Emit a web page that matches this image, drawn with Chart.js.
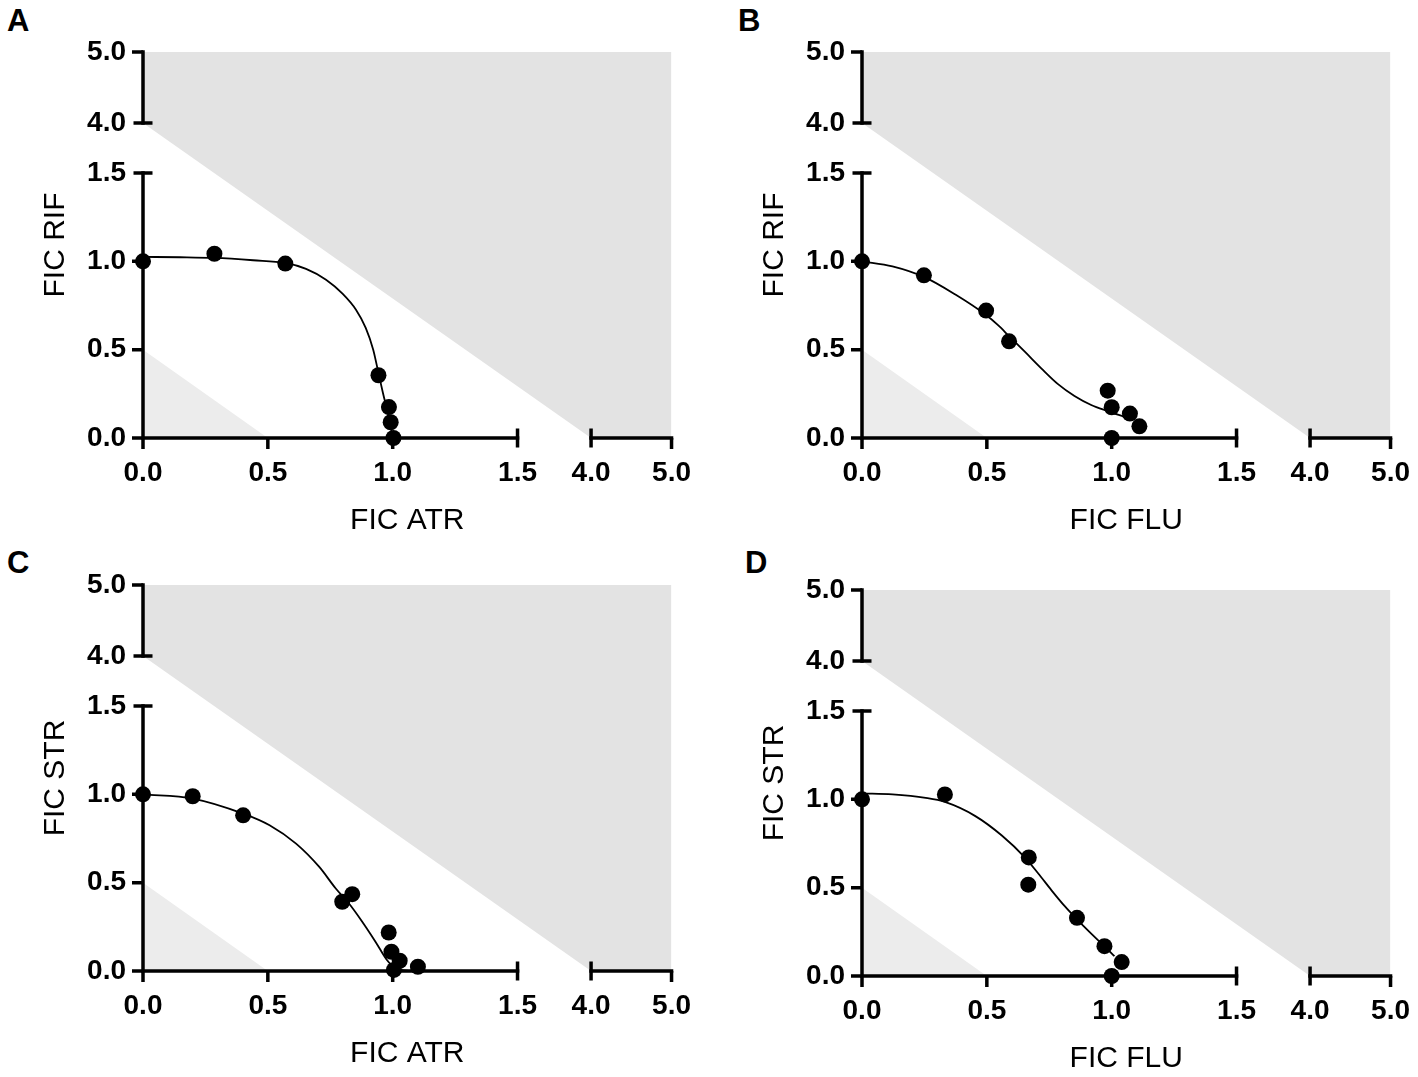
<!DOCTYPE html>
<html><head><meta charset="utf-8">
<script src="https://cdn.jsdelivr.net/npm/chart.js@4.4.1/dist/chart.umd.min.js"></script>
<style>
html,body{margin:0;padding:0;background:#fff;width:1418px;height:1077px;overflow:hidden;position:relative;}
canvas{position:absolute;}
.letter{position:absolute;font-family:'Liberation Sans',Arial,sans-serif;font-weight:bold;font-size:31px;line-height:31px;color:#000;}
</style></head><body>
<div class="letter" style="left:7px;top:5px">A</div>
<div class="letter" style="left:738px;top:5px">B</div>
<div class="letter" style="left:7px;top:547px">C</div>
<div class="letter" style="left:745px;top:547px">D</div>
<canvas id="cA" width="709" height="540" style="left:0px;top:0px;width:709px;height:540px"></canvas>
<canvas id="cB" width="709" height="540" style="left:719px;top:0px;width:709px;height:540px"></canvas>
<canvas id="cC" width="709" height="540" style="left:0px;top:533px;width:709px;height:540px"></canvas>
<canvas id="cD" width="709" height="540" style="left:719px;top:538px;width:709px;height:540px"></canvas>
<script>
// ---------- tick values / labels (both axes are broken: 0–1.5 // 4–5) ----------
const tickValues = [0, 0.5, 1.0, 1.5, 4.0, 5.0];
const tickLabels = ['0.0', '0.5', '1.0', '1.5', '4.0', '5.0'];

// ---------- reference regions ----------
const antagonismX = [0, 4, 5];      // lower edge of the x+y >= 4 region
const antagonismY = [4, 0, 0];
const synergyX = [0, 0.5];          // upper edge of the x+y <= 0.5 region
const synergyY = [0.5, 0];

// ---------- Panel A: FIC ATR vs FIC RIF ----------
const atrRifX = [0, 0.286, 0.570, 0.943, 0.985, 0.992, 1.003];
const atrRifY = [1.0, 1.043, 0.987, 0.355, 0.175, 0.089, 0.0];
const atrRifCurveX = [0, 0.149, 0.286, 0.441, 0.570, 0.653, 0.733, 0.799, 0.853, 0.892, 0.922, 0.943, 0.961, 0.979, 0.992, 1.001];
const atrRifCurveY = [1.025, 1.023, 1.019, 1.006, 0.991, 0.957, 0.896, 0.817, 0.726, 0.623, 0.500, 0.368, 0.255, 0.151, 0.066, 0.0];

// ---------- Panel B: FIC FLU vs FIC RIF ----------
const fluRifX = [0, 0.248, 0.497, 0.589, 0.984, 1.0, 1.073, 1.111, 1.0];
const fluRifY = [1.0, 0.921, 0.721, 0.547, 0.268, 0.174, 0.138, 0.066, 0.0];
const fluRifCurveX = [0, 0.122, 0.248, 0.374, 0.493, 0.546, 0.590, 0.653, 0.719, 0.785, 0.851, 0.918, 0.984, 1.050];
const fluRifCurveY = [1.0, 0.972, 0.912, 0.812, 0.700, 0.637, 0.575, 0.487, 0.393, 0.305, 0.238, 0.187, 0.152, 0.120];

// ---------- Panel C: FIC ATR vs FIC STR ----------
const atrStrX = [0, 0.199, 0.401, 0.798, 0.838, 0.984, 0.995, 1.028, 1.005, 1.101];
const atrStrY = [1.0, 0.989, 0.881, 0.392, 0.435, 0.218, 0.109, 0.058, 0.006, 0.024];
const atrStrCurveX = [0, 0.199, 0.401, 0.507, 0.613, 0.706, 0.772, 0.825, 0.878, 0.931, 0.977, 1.011, 1.064];
const atrStrCurveY = [1.0, 0.976, 0.891, 0.825, 0.721, 0.589, 0.467, 0.382, 0.279, 0.166, 0.062, 0.015, 0.0];

// ---------- Panel D: FIC FLU vs FIC STR ----------
const fluStrX = [0, 0.332, 0.668, 0.666, 0.861, 0.971, 1.040, 1.0];
const fluStrY = [1.0, 1.028, 0.671, 0.517, 0.329, 0.169, 0.079, 0.0];
const fluStrCurveX = [0, 0.122, 0.255, 0.332, 0.454, 0.560, 0.653, 0.706, 0.759, 0.812, 0.858, 0.918, 0.971, 1.011];
const fluStrCurveY = [1.034, 1.028, 1.008, 0.985, 0.905, 0.795, 0.670, 0.580, 0.485, 0.395, 0.325, 0.240, 0.168, 0.112];

// ---------- axis break transform (value -> continuous scale coordinate) ----------
const BREAK_LO = 1.5, BREAK_HI = 4.0;
const X_GAP = 0.2945, X_SEG2 = 0.3223;
const Y_GAP = 0.283,  Y_SEG2 = 0.4018;
function vx(v){ return v <= BREAK_LO ? v : BREAK_LO + X_GAP + (v - BREAK_HI) * X_SEG2; }
function vy(v){ return v <= BREAK_LO ? v : BREAK_LO + Y_GAP + (v - BREAK_HI) * Y_SEG2; }
function pts(xs, ys){ return xs.map((x, i) => ({x: vx(x), y: vy(ys[i])})); }

const FONT = "'Liberation Sans', Arial, Helvetica, sans-serif";
const AXIS_W = 3.5, TICK_OUT = 11, TICK_BREAK = 9.5;

const brokenAxes = {
  id: 'brokenAxes',
  afterDatasetDraw(chart, args) {
    if (args.index !== 2) return;   // draw after both shaded regions, before curve & dots
    const ctx = chart.ctx, xs = chart.scales.x, ys = chart.scales.y;
    const x0 = xs.getPixelForValue(vx(0)), y0 = ys.getPixelForValue(vy(0));
    ctx.save();
    ctx.strokeStyle = '#000';
    ctx.lineWidth = AXIS_W;
    ctx.lineCap = 'square';
    const segs = [[0, BREAK_LO], [BREAK_HI, 5]];
    segs.forEach(([a, b]) => {
      ctx.beginPath();
      ctx.moveTo(xs.getPixelForValue(vx(a)), y0);
      ctx.lineTo(xs.getPixelForValue(vx(b)), y0);
      ctx.moveTo(x0, ys.getPixelForValue(vy(a)));
      ctx.lineTo(x0, ys.getPixelForValue(vy(b)));
      ctx.stroke();
    });
    ctx.lineCap = 'butt';
    tickValues.forEach(v => {
      const isBreak = (v === BREAK_LO || v === BREAK_HI);
      const px = xs.getPixelForValue(vx(v));
      const py = ys.getPixelForValue(vy(v));
      ctx.beginPath();
      ctx.moveTo(px, y0 - (isBreak ? TICK_BREAK : 0));
      ctx.lineTo(px, y0 + (isBreak ? TICK_BREAK : TICK_OUT));
      ctx.moveTo(x0 - (isBreak ? TICK_BREAK : TICK_OUT), py);
      ctx.lineTo(x0 + (isBreak ? TICK_BREAK : 0), py);
      ctx.stroke();
    });
    ctx.restore();
  }
};

function makePanel(id, xTitle, yTitle, px, py, cx, cy) {
  const canvas = document.getElementById(id);
  new Chart(canvas, {
    type: 'line',
    data: {
      datasets: [
        { data: pts(px, py), showLine: false, pointRadius: 8, pointBorderWidth: 0,
          pointBackgroundColor: '#000', borderColor: '#000', clip: false },
        { data: pts(cx, cy), borderColor: '#000', borderWidth: 1.8, pointRadius: 0,
          cubicInterpolationMode: 'monotone', fill: false },
        { data: pts(synergyX, synergyY), borderWidth: 0, pointRadius: 0, tension: 0,
          fill: 'start', backgroundColor: '#ececec' },
        { data: pts(antagonismX, antagonismY), borderWidth: 0, pointRadius: 0, tension: 0,
          fill: 'end', backgroundColor: '#e3e3e3' }
      ]
    },
    options: {
      responsive: false,
      animation: false,
      events: [],
      layout: { padding: { left: 0, top: 52, right: 34, bottom: 0 } },
      plugins: { legend: { display: false }, tooltip: { enabled: false } },
      scales: {
        x: {
          type: 'linear', min: 0, max: vx(5),
          grid: { display: false, drawTicks: false },
          border: { display: false },
          afterBuildTicks: s => { s.ticks = tickValues.map(v => ({ value: vx(v) })); },
          afterFit: s => { s.height = 102; },
          ticks: { autoSkip: false, maxRotation: 0, minRotation: 0, padding: 18, color: '#000',
                   font: { family: FONT, size: 28, weight: 'bold' },
                   callback: (val, i) => tickLabels[i] },
          title: { display: true, text: xTitle, color: '#000',
                   font: { family: FONT, size: 30, weight: 'normal' },
                   padding: { top: 0, bottom: 1 } }
        },
        y: {
          type: 'linear', min: 0, max: vy(5),
          grid: { display: false, drawTicks: false },
          border: { display: false },
          afterBuildTicks: s => { s.ticks = tickValues.map(v => ({ value: vy(v) })); },
          afterFit: s => { s.width = 143; },
          ticks: { autoSkip: false, padding: 17, color: '#000',
                   font: { family: FONT, size: 28, weight: 'bold' },
                   callback: (val, i) => tickLabels[i] },
          title: { display: true, text: yTitle, color: '#000',
                   font: { family: FONT, size: 30, weight: 'normal' },
                   padding: { top: 38, bottom: 0 } }
        }
      }
    },
    plugins: [brokenAxes]
  });
}

makePanel('cA', 'FIC ATR', 'FIC RIF', atrRifX, atrRifY, atrRifCurveX, atrRifCurveY);
makePanel('cB', 'FIC FLU', 'FIC RIF', fluRifX, fluRifY, fluRifCurveX, fluRifCurveY);
makePanel('cC', 'FIC ATR', 'FIC STR', atrStrX, atrStrY, atrStrCurveX, atrStrCurveY);
makePanel('cD', 'FIC FLU', 'FIC STR', fluStrX, fluStrY, fluStrCurveX, fluStrCurveY);
</script>
</body></html>
